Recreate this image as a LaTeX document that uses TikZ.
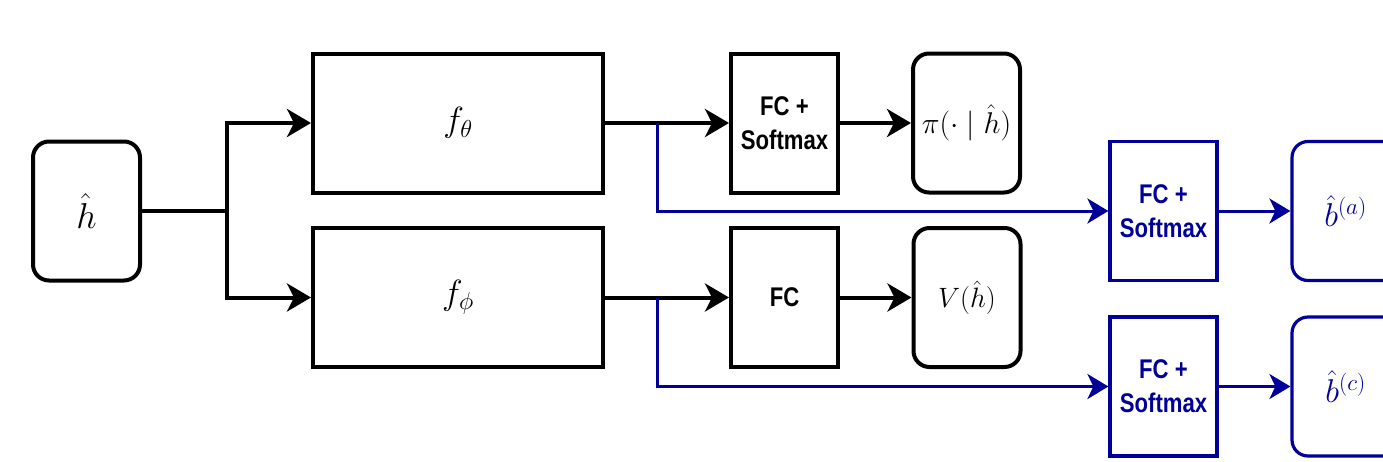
\RequirePackage{fix-cm}
\documentclass[tikz,border=0pt]{standalone}
\usepackage{fontspec}
\newfontfamily\labelsans[FakeStretch=0.82]{Liberation Sans}
\usetikzlibrary{arrows.meta,positioning}
\definecolor{navy}{RGB}{0,0,153}
\newcommand\mathsize[1]{\fontsize{#1}{#1}\selectfont}
\tikzset{
  blk/.style={draw=black, line width=4pt, inner sep=0pt},
  wide/.style={blk, minimum width=290pt, minimum height=139pt, font=\mathsize{35}},
  sq/.style={blk, minimum width=107pt, minimum height=139pt, align=center,
    font=\labelsans\bfseries\fontsize{27}{34}\selectfont},
  rnd/.style={blk, rounded corners=16pt, minimum width=107pt, minimum height=139pt,
    font=\mathsize{30}},
  bsq/.style={sq, draw=navy, line width=3.2pt, text=navy},
  brnd/.style={rnd, draw=navy, line width=3.2pt, text=navy, font=\mathsize{33}},
  arr/.style={line width=4pt, -{Stealth[length=24pt, width=28pt, inset=7pt]}},
  barr/.style={draw=navy, line width=3pt, -{Stealth[length=21pt, width=25pt, inset=6pt, fill=navy]}},
  ln/.style={line width=4pt},
}
\begin{document}
\begin{tikzpicture}[x=1pt, y=-1pt]
  \useasboundingbox (0,0) rectangle (1383,461);
  \clip (0,0) rectangle (1383,461);

  % input and the two trunks
  \node[rnd, font=\mathsize{36}] (hh) at (86.5,211) {$\hat{h}$};
  \node[wide] (fth) at (458,123) {$f_\theta$};
  \node[wide] (fph) at (458,297.5) {$f_\phi$};

  % policy and value heads
  \node[sq] (fc1) at (784.5,123) {FC +\\Softmax};
  \node[rnd] (pi) at (966.5,123) {$\pi(\cdot\mid\hat{h})$};
  \node[sq] (fc2) at (784.5,297.5) {FC};
  \node[rnd, font=\mathsize{28}] (val) at (967,297.5) {$V(\hat{h})$};

  % auxiliary heads
  \node[bsq] (bfc1) at (1163.5,211) {FC +\\Softmax};
  \node[brnd] (ba) at (1345.5,211) {$\hat{b}^{(a)}$};
  \node[bsq] (bfc2) at (1163.5,386.5) {FC +\\Softmax};
  \node[brnd] (bc) at (1345.5,386.5) {$\hat{b}^{(c)}$};

  \coordinate (split) at (227,211);
  \coordinate (tapA) at (657,123);
  \coordinate (tapB) at (657,297.5);

  % split of the input
  \draw[ln] (hh.east) -- (split);
  \draw[arr] (split) |- (fth.west);
  \draw[arr] (split) |- (fph.west);

  % black heads
  \draw[arr] (fth.east) -- (fc1.west);
  \draw[arr] (fc1.east) -- (pi.west);
  \draw[arr] (fph.east) -- (fc2.west);
  \draw[arr] (fc2.east) -- (val.west);

  % blue taps
  \draw[barr] (tapA) |- (bfc1.west);
  \draw[barr] (bfc1.east) -- (ba.west);
  \draw[barr] (tapB) |- (bfc2.west);
  \draw[barr] (bfc2.east) -- (bc.west);
\end{tikzpicture}
\end{document}
